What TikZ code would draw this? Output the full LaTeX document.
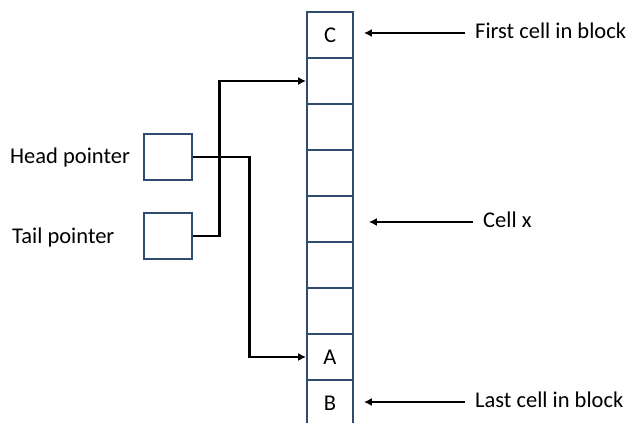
\documentclass[tikz,border=0pt]{standalone}
\usepackage{fontspec}
\setmainfont{Carlito}
\usetikzlibrary{arrows.meta,calc}
\definecolor{cellblue}{HTML}{2F4B6E}
\newcommand{\ch}{46}

\begin{document}
\begin{tikzpicture}[x=1pt,y=-1pt,
  cell/.style={draw=cellblue,line width=1.7pt,minimum width=46pt,minimum height=\ch pt,inner sep=0pt,font=\fontsize{22.5}{27}\selectfont},
  ptr/.style={draw=cellblue,line width=1.7pt,minimum width=48pt,minimum height=46pt,inner sep=0pt},
  lbl/.style={anchor=base west,inner sep=0pt,font=\fontsize{22.5}{27}\selectfont},
  link/.style={line width=2.8pt,-{Latex[length=8pt,width=8pt]}}]
\useasboundingbox (0,0) rectangle (630,423);
\foreach \i/\t in {1/C,2/,3/,4/,5/,6/,7/,8/A,9/B}{
\node[cell] (c\i) at (330,{12+\ch*(\i-0.5)}) {\t};
}
\node[ptr] (head) at (168,157) {};
\node[ptr] (tail) at (168,236) {};
\node[lbl] (headlbl) at (10,163) {Head pointer};
\node[lbl] (taillbl) at (12,243) {Tail pointer};
\node[lbl] (first) at (475,38) {First cell in block};
\node[lbl] (cellx) at (483,227) {Cell x};
\node[lbl] (last) at (475,407) {Last cell in block};

\draw[link] (head.east) -- ++(57,0) |- (c8.west);
\draw[link] (tail.east) -- ++(27,0) |- (c2.west);

\path ([xshift=-10pt,yshift=5pt]first.base west) coordinate (f1);
\path ([xshift=-10pt,yshift=5pt]cellx.base west) coordinate (x1);
\path ([xshift=-10pt,yshift=5pt]last.base west) coordinate (l1);
\draw[link,line width=2.3pt] (f1) -- ([xshift=10pt]f1 -| c1.east);
\draw[link,line width=2.3pt] (x1) -- ([xshift=15pt]x1 -| c5.east);
\draw[link,line width=2.3pt] (l1) -- ([xshift=10pt]l1 -| c9.east);
\end{tikzpicture}
\end{document}
